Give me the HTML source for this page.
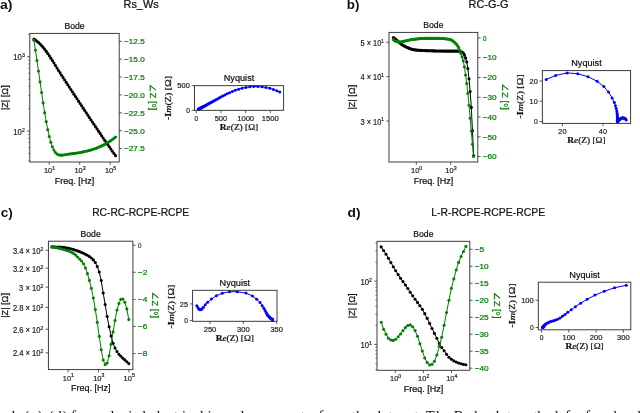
<!DOCTYPE html>
<html><head><meta charset="utf-8"><style>
html,body{margin:0;padding:0;background:#fff;width:640px;height:413px;overflow:hidden}
svg{display:block;will-change:transform}
text{stroke-linejoin:round}
</style></head><body>
<svg width="640" height="413" viewBox="0 0 640 413">
<rect width="640" height="413" fill="#fff"/>
<text x="123.6" y="8" font-size="10.4" font-family="Liberation Sans" fill="#111" stroke="#111" stroke-width="0.22" textLength="35" lengthAdjust="spacingAndGlyphs">Rs_Ws</text>
<text x="0" y="9.3" font-size="12" font-family="Liberation Sans" fill="#111" font-weight="bold" textLength="12.5" lengthAdjust="spacingAndGlyphs">a)</text>
<text x="74.5" y="29.3" font-size="8.9" font-family="Liberation Sans" fill="#111" stroke="#111" stroke-width="0.22" text-anchor="middle" textLength="20.2" lengthAdjust="spacingAndGlyphs">Bode</text>
<text x="74.5" y="183.8" font-size="8.4" font-family="Liberation Sans" fill="#111" stroke="#111" stroke-width="0.22" text-anchor="middle" textLength="39.5" lengthAdjust="spacingAndGlyphs">Freq. [Hz]</text>
<text x="7.6" y="97.7" font-size="8.4" font-family="Liberation Sans" fill="#111" stroke="#111" stroke-width="0.22" text-anchor="middle" textLength="24.8" lengthAdjust="spacingAndGlyphs" transform="rotate(-90 7.6 97.7)">|Z| [Ω]</text>
<g transform="translate(149.8 97.7) rotate(90)"><path d="M-7.6 -6.1 L-12.1 -0.4 L-6.4 -0.4" fill="none" stroke="#008000" stroke-width="1.1"/><text x="-4.9" y="0" font-size="8.4" font-family="Liberation Sans" fill="#008000" stroke="#008000" stroke-width="0.22" textLength="17.6" lengthAdjust="spacingAndGlyphs">Z [<tspan font-size="10" dy="2">°</tspan><tspan dy="-2">]</tspan></text></g>
<line x1="49.2" y1="162" x2="49.2" y2="164.8" stroke="#333" stroke-width="0.8"/>
<text x="49.5" y="172.9" font-size="7.9" font-family="Liberation Sans" fill="#262626" stroke="#262626" stroke-width="0.22" text-anchor="middle" textLength="11.2" lengthAdjust="spacingAndGlyphs">10<tspan font-size="5.53" dy="-3.16">1</tspan></text>
<line x1="79.7" y1="162" x2="79.7" y2="164.8" stroke="#333" stroke-width="0.8"/>
<text x="80" y="172.9" font-size="7.9" font-family="Liberation Sans" fill="#262626" stroke="#262626" stroke-width="0.22" text-anchor="middle" textLength="11.2" lengthAdjust="spacingAndGlyphs">10<tspan font-size="5.53" dy="-3.16">3</tspan></text>
<line x1="110.2" y1="162" x2="110.2" y2="164.8" stroke="#333" stroke-width="0.8"/>
<text x="110.5" y="172.9" font-size="7.9" font-family="Liberation Sans" fill="#262626" stroke="#262626" stroke-width="0.22" text-anchor="middle" textLength="11.2" lengthAdjust="spacingAndGlyphs">10<tspan font-size="5.53" dy="-3.16">5</tspan></text>
<line x1="27" y1="56.8" x2="29.8" y2="56.8" stroke="#333" stroke-width="0.8"/>
<text x="24.8" y="60.4" font-size="8.2" font-family="Liberation Sans" fill="#262626" stroke="#262626" stroke-width="0.22" text-anchor="end" textLength="11.5" lengthAdjust="spacingAndGlyphs">10<tspan font-size="5.5" dy="-3.2">3</tspan></text>
<line x1="27" y1="131.1" x2="29.8" y2="131.1" stroke="#333" stroke-width="0.8"/>
<text x="24.8" y="134.7" font-size="8.2" font-family="Liberation Sans" fill="#262626" stroke="#262626" stroke-width="0.22" text-anchor="end" textLength="11.5" lengthAdjust="spacingAndGlyphs">10<tspan font-size="5.5" dy="-3.2">2</tspan></text>
<line x1="28.1" y1="160.67" x2="29.8" y2="160.67" stroke="#333" stroke-width="0.6"/>
<line x1="28.1" y1="153.47" x2="29.8" y2="153.47" stroke="#333" stroke-width="0.6"/>
<line x1="28.1" y1="147.58" x2="29.8" y2="147.58" stroke="#333" stroke-width="0.6"/>
<line x1="28.1" y1="142.61" x2="29.8" y2="142.61" stroke="#333" stroke-width="0.6"/>
<line x1="28.1" y1="138.3" x2="29.8" y2="138.3" stroke="#333" stroke-width="0.6"/>
<line x1="28.1" y1="134.5" x2="29.8" y2="134.5" stroke="#333" stroke-width="0.6"/>
<line x1="28.1" y1="108.73" x2="29.8" y2="108.73" stroke="#333" stroke-width="0.6"/>
<line x1="28.1" y1="95.65" x2="29.8" y2="95.65" stroke="#333" stroke-width="0.6"/>
<line x1="28.1" y1="86.37" x2="29.8" y2="86.37" stroke="#333" stroke-width="0.6"/>
<line x1="28.1" y1="79.17" x2="29.8" y2="79.17" stroke="#333" stroke-width="0.6"/>
<line x1="28.1" y1="73.28" x2="29.8" y2="73.28" stroke="#333" stroke-width="0.6"/>
<line x1="28.1" y1="68.31" x2="29.8" y2="68.31" stroke="#333" stroke-width="0.6"/>
<line x1="28.1" y1="64" x2="29.8" y2="64" stroke="#333" stroke-width="0.6"/>
<line x1="28.1" y1="60.2" x2="29.8" y2="60.2" stroke="#333" stroke-width="0.6"/>
<line x1="28.1" y1="34.43" x2="29.8" y2="34.43" stroke="#333" stroke-width="0.6"/>
<line x1="119.2" y1="41.3" x2="122" y2="41.3" stroke="#333" stroke-width="0.8"/>
<text x="124.1" y="44.1" font-size="7.7" font-family="Liberation Sans" fill="#008000" stroke="#008000" stroke-width="0.22" textLength="20.59" lengthAdjust="spacingAndGlyphs">−12.5</text>
<line x1="119.2" y1="59.18" x2="122" y2="59.18" stroke="#333" stroke-width="0.8"/>
<text x="124.1" y="61.98" font-size="7.7" font-family="Liberation Sans" fill="#008000" stroke="#008000" stroke-width="0.22" textLength="20.59" lengthAdjust="spacingAndGlyphs">−15.0</text>
<line x1="119.2" y1="77.06" x2="122" y2="77.06" stroke="#333" stroke-width="0.8"/>
<text x="124.1" y="79.86" font-size="7.7" font-family="Liberation Sans" fill="#008000" stroke="#008000" stroke-width="0.22" textLength="20.59" lengthAdjust="spacingAndGlyphs">−17.5</text>
<line x1="119.2" y1="94.95" x2="122" y2="94.95" stroke="#333" stroke-width="0.8"/>
<text x="124.1" y="97.75" font-size="7.7" font-family="Liberation Sans" fill="#008000" stroke="#008000" stroke-width="0.22" textLength="20.59" lengthAdjust="spacingAndGlyphs">−20.0</text>
<line x1="119.2" y1="112.83" x2="122" y2="112.83" stroke="#333" stroke-width="0.8"/>
<text x="124.1" y="115.63" font-size="7.7" font-family="Liberation Sans" fill="#008000" stroke="#008000" stroke-width="0.22" textLength="20.59" lengthAdjust="spacingAndGlyphs">−22.5</text>
<line x1="119.2" y1="130.71" x2="122" y2="130.71" stroke="#333" stroke-width="0.8"/>
<text x="124.1" y="133.51" font-size="7.7" font-family="Liberation Sans" fill="#008000" stroke="#008000" stroke-width="0.22" textLength="20.59" lengthAdjust="spacingAndGlyphs">−25.0</text>
<line x1="119.2" y1="148.59" x2="122" y2="148.59" stroke="#333" stroke-width="0.8"/>
<text x="124.1" y="151.39" font-size="7.7" font-family="Liberation Sans" fill="#008000" stroke="#008000" stroke-width="0.22" textLength="20.59" lengthAdjust="spacingAndGlyphs">−27.5</text>
<path d="M33.9 39.08 L35.44 40.09 L36.98 41.24 L38.52 42.53 L40.06 43.99 L41.6 45.6 L43.14 47.37 L44.68 49.29 L46.22 51.35 L47.76 53.53 L49.3 55.81 L50.84 58.17 L52.38 60.59 L53.92 63.04 L55.45 65.51 L56.99 67.98 L58.53 70.43 L60.07 72.86 L61.61 75.27 L63.15 77.66 L64.69 80.04 L66.23 82.4 L67.77 84.75 L69.31 87.1 L70.85 89.45 L72.39 91.79 L73.93 94.13 L75.47 96.47 L77.01 98.81 L78.55 101.14 L80.09 103.48 L81.63 105.81 L83.17 108.13 L84.71 110.45 L86.25 112.77 L87.79 115.09 L89.33 117.4 L90.87 119.7 L92.41 122 L93.95 124.3 L95.48 126.59 L97.02 128.87 L98.56 131.15 L100.1 133.42 L101.64 135.69 L103.18 137.94 L104.72 140.19 L106.26 142.43 L107.8 144.66 L109.34 146.87 L110.88 149.08 L112.42 151.28 L113.96 153.46 L115.5 155.63" fill="none" stroke="#000" stroke-width="1.0" stroke-linejoin="round"/>
<g fill="#000"><circle cx="33.9" cy="39.08" r="1.55"/><circle cx="35.44" cy="40.09" r="1.55"/><circle cx="36.98" cy="41.24" r="1.55"/><circle cx="38.52" cy="42.53" r="1.55"/><circle cx="40.06" cy="43.99" r="1.55"/><circle cx="41.6" cy="45.6" r="1.55"/><circle cx="43.14" cy="47.37" r="1.55"/><circle cx="44.68" cy="49.29" r="1.55"/><circle cx="46.22" cy="51.35" r="1.55"/><circle cx="47.76" cy="53.53" r="1.55"/><circle cx="49.3" cy="55.81" r="1.55"/><circle cx="50.84" cy="58.17" r="1.55"/><circle cx="52.38" cy="60.59" r="1.55"/><circle cx="53.92" cy="63.04" r="1.55"/><circle cx="55.45" cy="65.51" r="1.55"/><circle cx="56.99" cy="67.98" r="1.55"/><circle cx="58.53" cy="70.43" r="1.55"/><circle cx="60.07" cy="72.86" r="1.55"/><circle cx="61.61" cy="75.27" r="1.55"/><circle cx="63.15" cy="77.66" r="1.55"/><circle cx="64.69" cy="80.04" r="1.55"/><circle cx="66.23" cy="82.4" r="1.55"/><circle cx="67.77" cy="84.75" r="1.55"/><circle cx="69.31" cy="87.1" r="1.55"/><circle cx="70.85" cy="89.45" r="1.55"/><circle cx="72.39" cy="91.79" r="1.55"/><circle cx="73.93" cy="94.13" r="1.55"/><circle cx="75.47" cy="96.47" r="1.55"/><circle cx="77.01" cy="98.81" r="1.55"/><circle cx="78.55" cy="101.14" r="1.55"/><circle cx="80.09" cy="103.48" r="1.55"/><circle cx="81.63" cy="105.81" r="1.55"/><circle cx="83.17" cy="108.13" r="1.55"/><circle cx="84.71" cy="110.45" r="1.55"/><circle cx="86.25" cy="112.77" r="1.55"/><circle cx="87.79" cy="115.09" r="1.55"/><circle cx="89.33" cy="117.4" r="1.55"/><circle cx="90.87" cy="119.7" r="1.55"/><circle cx="92.41" cy="122" r="1.55"/><circle cx="93.95" cy="124.3" r="1.55"/><circle cx="95.48" cy="126.59" r="1.55"/><circle cx="97.02" cy="128.87" r="1.55"/><circle cx="98.56" cy="131.15" r="1.55"/><circle cx="100.1" cy="133.42" r="1.55"/><circle cx="101.64" cy="135.69" r="1.55"/><circle cx="103.18" cy="137.94" r="1.55"/><circle cx="104.72" cy="140.19" r="1.55"/><circle cx="106.26" cy="142.43" r="1.55"/><circle cx="107.8" cy="144.66" r="1.55"/><circle cx="109.34" cy="146.87" r="1.55"/><circle cx="110.88" cy="149.08" r="1.55"/><circle cx="112.42" cy="151.28" r="1.55"/><circle cx="113.96" cy="153.46" r="1.55"/><circle cx="115.5" cy="155.63" r="1.55"/></g>
<path d="M33.9 40.2 L35.44 50.1 L36.98 60.45 L38.52 71.11 L40.06 81.89 L41.6 92.56 L43.14 102.89 L44.68 112.66 L46.22 121.64 L47.76 129.63 L49.3 136.52 L50.84 142.22 L52.38 146.73 L53.92 150.11 L55.45 152.47 L56.99 153.97 L58.53 154.81 L60.07 155.15 L61.61 155.17 L63.15 155.01 L64.69 154.76 L66.23 154.51 L67.77 154.26 L69.31 154.04 L70.85 153.83 L72.39 153.63 L73.93 153.43 L75.47 153.21 L77.01 152.98 L78.55 152.73 L80.09 152.47 L81.63 152.18 L83.17 151.87 L84.71 151.54 L86.25 151.19 L87.79 150.81 L89.33 150.4 L90.87 149.96 L92.41 149.5 L93.95 148.99 L95.48 148.46 L97.02 147.88 L98.56 147.27 L100.1 146.61 L101.64 145.91 L103.18 145.15 L104.72 144.35 L106.26 143.49 L107.8 142.58 L109.34 141.6 L110.88 140.56 L112.42 139.45 L113.96 138.27 L115.5 137.02" fill="none" stroke="#008000" stroke-width="1.0" stroke-linejoin="round"/>
<g fill="#008000"><circle cx="33.9" cy="40.2" r="1.55"/><circle cx="35.44" cy="50.1" r="1.55"/><circle cx="36.98" cy="60.45" r="1.55"/><circle cx="38.52" cy="71.11" r="1.55"/><circle cx="40.06" cy="81.89" r="1.55"/><circle cx="41.6" cy="92.56" r="1.55"/><circle cx="43.14" cy="102.89" r="1.55"/><circle cx="44.68" cy="112.66" r="1.55"/><circle cx="46.22" cy="121.64" r="1.55"/><circle cx="47.76" cy="129.63" r="1.55"/><circle cx="49.3" cy="136.52" r="1.55"/><circle cx="50.84" cy="142.22" r="1.55"/><circle cx="52.38" cy="146.73" r="1.55"/><circle cx="53.92" cy="150.11" r="1.55"/><circle cx="55.45" cy="152.47" r="1.55"/><circle cx="56.99" cy="153.97" r="1.55"/><circle cx="58.53" cy="154.81" r="1.55"/><circle cx="60.07" cy="155.15" r="1.55"/><circle cx="61.61" cy="155.17" r="1.55"/><circle cx="63.15" cy="155.01" r="1.55"/><circle cx="64.69" cy="154.76" r="1.55"/><circle cx="66.23" cy="154.51" r="1.55"/><circle cx="67.77" cy="154.26" r="1.55"/><circle cx="69.31" cy="154.04" r="1.55"/><circle cx="70.85" cy="153.83" r="1.55"/><circle cx="72.39" cy="153.63" r="1.55"/><circle cx="73.93" cy="153.43" r="1.55"/><circle cx="75.47" cy="153.21" r="1.55"/><circle cx="77.01" cy="152.98" r="1.55"/><circle cx="78.55" cy="152.73" r="1.55"/><circle cx="80.09" cy="152.47" r="1.55"/><circle cx="81.63" cy="152.18" r="1.55"/><circle cx="83.17" cy="151.87" r="1.55"/><circle cx="84.71" cy="151.54" r="1.55"/><circle cx="86.25" cy="151.19" r="1.55"/><circle cx="87.79" cy="150.81" r="1.55"/><circle cx="89.33" cy="150.4" r="1.55"/><circle cx="90.87" cy="149.96" r="1.55"/><circle cx="92.41" cy="149.5" r="1.55"/><circle cx="93.95" cy="148.99" r="1.55"/><circle cx="95.48" cy="148.46" r="1.55"/><circle cx="97.02" cy="147.88" r="1.55"/><circle cx="98.56" cy="147.27" r="1.55"/><circle cx="100.1" cy="146.61" r="1.55"/><circle cx="101.64" cy="145.91" r="1.55"/><circle cx="103.18" cy="145.15" r="1.55"/><circle cx="104.72" cy="144.35" r="1.55"/><circle cx="106.26" cy="143.49" r="1.55"/><circle cx="107.8" cy="142.58" r="1.55"/><circle cx="109.34" cy="141.6" r="1.55"/><circle cx="110.88" cy="140.56" r="1.55"/><circle cx="112.42" cy="139.45" r="1.55"/><circle cx="113.96" cy="138.27" r="1.55"/><circle cx="115.5" cy="137.02" r="1.55"/></g>
<rect x="29.8" y="33.4" width="89.4" height="128.6" fill="none" stroke="#333" stroke-width="0.95"/>
<text x="239.03" y="81.17" font-size="8.9" font-family="Liberation Sans" fill="#111" stroke="#111" stroke-width="0.22" text-anchor="middle" textLength="30.5" lengthAdjust="spacingAndGlyphs">Nyquist</text>
<line x1="196.3" y1="110.34" x2="196.3" y2="113.14" stroke="#333" stroke-width="0.8"/>
<text x="196.3" y="120.74" font-size="7.7" font-family="Liberation Sans" fill="#262626" stroke="#262626" stroke-width="0.22" text-anchor="middle" textLength="3.72" lengthAdjust="spacingAndGlyphs">0</text>
<line x1="220.97" y1="110.34" x2="220.97" y2="113.14" stroke="#333" stroke-width="0.8"/>
<text x="220.97" y="120.74" font-size="7.7" font-family="Liberation Sans" fill="#262626" stroke="#262626" stroke-width="0.22" text-anchor="middle" textLength="12.56" lengthAdjust="spacingAndGlyphs">500</text>
<line x1="245.64" y1="110.34" x2="245.64" y2="113.14" stroke="#333" stroke-width="0.8"/>
<text x="245.64" y="120.74" font-size="7.7" font-family="Liberation Sans" fill="#262626" stroke="#262626" stroke-width="0.22" text-anchor="middle" textLength="16.98" lengthAdjust="spacingAndGlyphs">1000</text>
<line x1="270.31" y1="110.34" x2="270.31" y2="113.14" stroke="#333" stroke-width="0.8"/>
<text x="270.31" y="120.74" font-size="7.7" font-family="Liberation Sans" fill="#262626" stroke="#262626" stroke-width="0.22" text-anchor="middle" textLength="16.98" lengthAdjust="spacingAndGlyphs">1500</text>
<line x1="191.66" y1="110.34" x2="194.46" y2="110.34" stroke="#333" stroke-width="0.8"/>
<text x="189.86" y="113.14" font-size="7.7" font-family="Liberation Sans" fill="#262626" stroke="#262626" stroke-width="0.22" text-anchor="end" textLength="3.72" lengthAdjust="spacingAndGlyphs">0</text>
<line x1="191.66" y1="85.67" x2="194.46" y2="85.67" stroke="#333" stroke-width="0.8"/>
<text x="189.86" y="88.47" font-size="7.7" font-family="Liberation Sans" fill="#262626" stroke="#262626" stroke-width="0.22" text-anchor="end" textLength="12.56" lengthAdjust="spacingAndGlyphs">500</text>
<text x="239.03" y="129.84" font-size="8.6" font-family="Liberation Serif" fill="#111" stroke="#111" stroke-width="0.22" text-anchor="middle" textLength="38.3" lengthAdjust="spacingAndGlyphs"><tspan font-weight="bold">R</tspan><tspan font-style="italic">e</tspan>(Z) [Ω]</text>
<text x="171.2" y="98" font-size="8.6" font-family="Liberation Serif" fill="#111" stroke="#111" stroke-width="0.22" text-anchor="middle" transform="rotate(-90 171.2 98)" textLength="44" lengthAdjust="spacingAndGlyphs">-<tspan font-weight="bold">I</tspan><tspan font-style="italic">m</tspan>(Z) [Ω]</text>
<path d="M279.78 92.07 L276.76 90.68 L273.44 89.41 L269.85 88.32 L266.03 87.45 L262.04 86.85 L257.95 86.54 L253.84 86.53 L249.78 86.83 L245.85 87.39 L242.1 88.19 L238.57 89.16 L235.3 90.26 L232.3 91.43 L229.55 92.63 L227.04 93.82 L224.76 94.97 L222.68 96.07 L220.78 97.09 L219.04 98.05 L217.43 98.93 L215.94 99.75 L214.57 100.51 L213.29 101.21 L212.1 101.85 L211 102.46 L209.98 103.01 L209.02 103.53 L208.14 104.02 L207.32 104.46 L206.55 104.88 L205.84 105.27 L205.18 105.63 L204.57 105.96 L204 106.27 L203.47 106.56 L202.98 106.83 L202.52 107.08 L202.09 107.31 L201.7 107.52 L201.33 107.72 L200.99 107.91 L200.68 108.08 L200.38 108.24 L200.11 108.39 L199.86 108.53 L199.62 108.66 L199.4 108.77 L199.2 108.89 L199.01 108.99 L198.83 109.08 L198.67 109.17 L198.52 109.26 L198.38 109.33" fill="none" stroke="#0000ff" stroke-width="1.0" stroke-linejoin="round"/>
<g fill="#0000ff"><circle cx="279.78" cy="92.07" r="1.5"/><circle cx="276.76" cy="90.68" r="1.5"/><circle cx="273.44" cy="89.41" r="1.5"/><circle cx="269.85" cy="88.32" r="1.5"/><circle cx="266.03" cy="87.45" r="1.5"/><circle cx="262.04" cy="86.85" r="1.5"/><circle cx="257.95" cy="86.54" r="1.5"/><circle cx="253.84" cy="86.53" r="1.5"/><circle cx="249.78" cy="86.83" r="1.5"/><circle cx="245.85" cy="87.39" r="1.5"/><circle cx="242.1" cy="88.19" r="1.5"/><circle cx="238.57" cy="89.16" r="1.5"/><circle cx="235.3" cy="90.26" r="1.5"/><circle cx="232.3" cy="91.43" r="1.5"/><circle cx="229.55" cy="92.63" r="1.5"/><circle cx="227.04" cy="93.82" r="1.5"/><circle cx="224.76" cy="94.97" r="1.5"/><circle cx="222.68" cy="96.07" r="1.5"/><circle cx="220.78" cy="97.09" r="1.5"/><circle cx="219.04" cy="98.05" r="1.5"/><circle cx="217.43" cy="98.93" r="1.5"/><circle cx="215.94" cy="99.75" r="1.5"/><circle cx="214.57" cy="100.51" r="1.5"/><circle cx="213.29" cy="101.21" r="1.5"/><circle cx="212.1" cy="101.85" r="1.5"/><circle cx="211" cy="102.46" r="1.5"/><circle cx="209.98" cy="103.01" r="1.5"/><circle cx="209.02" cy="103.53" r="1.5"/><circle cx="208.14" cy="104.02" r="1.5"/><circle cx="207.32" cy="104.46" r="1.5"/><circle cx="206.55" cy="104.88" r="1.5"/><circle cx="205.84" cy="105.27" r="1.5"/><circle cx="205.18" cy="105.63" r="1.5"/><circle cx="204.57" cy="105.96" r="1.5"/><circle cx="204" cy="106.27" r="1.5"/><circle cx="203.47" cy="106.56" r="1.5"/><circle cx="202.98" cy="106.83" r="1.5"/><circle cx="202.52" cy="107.08" r="1.5"/><circle cx="202.09" cy="107.31" r="1.5"/><circle cx="201.7" cy="107.52" r="1.5"/><circle cx="201.33" cy="107.72" r="1.5"/><circle cx="200.99" cy="107.91" r="1.5"/><circle cx="200.68" cy="108.08" r="1.5"/><circle cx="200.38" cy="108.24" r="1.5"/><circle cx="200.11" cy="108.39" r="1.5"/><circle cx="199.86" cy="108.53" r="1.5"/><circle cx="199.62" cy="108.66" r="1.5"/><circle cx="199.4" cy="108.77" r="1.5"/><circle cx="199.2" cy="108.89" r="1.5"/><circle cx="199.01" cy="108.99" r="1.5"/><circle cx="198.83" cy="109.08" r="1.5"/><circle cx="198.67" cy="109.17" r="1.5"/><circle cx="198.52" cy="109.26" r="1.5"/><circle cx="198.38" cy="109.33" r="1.5"/></g>
<rect x="194.46" y="85.67" width="89.14" height="24.67" fill="none" stroke="#333" stroke-width="0.95"/>
<text x="468.5" y="8" font-size="10.4" font-family="Liberation Sans" fill="#111" stroke="#111" stroke-width="0.22" textLength="40" lengthAdjust="spacingAndGlyphs">RC-G-G</text>
<text x="346.8" y="9.3" font-size="12" font-family="Liberation Sans" fill="#111" font-weight="bold" textLength="12.6" lengthAdjust="spacingAndGlyphs">b)</text>
<text x="433.4" y="28.3" font-size="8.9" font-family="Liberation Sans" fill="#111" stroke="#111" stroke-width="0.22" text-anchor="middle" textLength="20.2" lengthAdjust="spacingAndGlyphs">Bode</text>
<text x="433.4" y="183.8" font-size="8.4" font-family="Liberation Sans" fill="#111" stroke="#111" stroke-width="0.22" text-anchor="middle" textLength="39.5" lengthAdjust="spacingAndGlyphs">Freq. [Hz]</text>
<text x="354.6" y="97.2" font-size="8.4" font-family="Liberation Sans" fill="#111" stroke="#111" stroke-width="0.22" text-anchor="middle" textLength="24.8" lengthAdjust="spacingAndGlyphs" transform="rotate(-90 354.6 97.2)">|Z| [Ω]</text>
<g transform="translate(502.2 97.2) rotate(90)"><path d="M-7.6 -6.1 L-12.1 -0.4 L-6.4 -0.4" fill="none" stroke="#008000" stroke-width="1.1"/><text x="-4.9" y="0" font-size="8.4" font-family="Liberation Sans" fill="#008000" stroke="#008000" stroke-width="0.22" textLength="17.6" lengthAdjust="spacingAndGlyphs">Z [<tspan font-size="10" dy="2">°</tspan><tspan dy="-2">]</tspan></text></g>
<line x1="416.3" y1="162" x2="416.3" y2="164.8" stroke="#333" stroke-width="0.8"/>
<text x="416.6" y="172.9" font-size="7.9" font-family="Liberation Sans" fill="#262626" stroke="#262626" stroke-width="0.22" text-anchor="middle" textLength="11.2" lengthAdjust="spacingAndGlyphs">10<tspan font-size="5.53" dy="-3.16">0</tspan></text>
<line x1="450.65" y1="162" x2="450.65" y2="164.8" stroke="#333" stroke-width="0.8"/>
<text x="450.95" y="172.9" font-size="7.9" font-family="Liberation Sans" fill="#262626" stroke="#262626" stroke-width="0.22" text-anchor="middle" textLength="11.2" lengthAdjust="spacingAndGlyphs">10<tspan font-size="5.53" dy="-3.16">3</tspan></text>
<line x1="386.2" y1="42.2" x2="389" y2="42.2" stroke="#333" stroke-width="0.8"/>
<text x="384" y="45.8" font-size="8.2" font-family="Liberation Sans" fill="#262626" stroke="#262626" stroke-width="0.22" text-anchor="end" textLength="23.5" lengthAdjust="spacingAndGlyphs">5 × 10<tspan font-size="5.5" dy="-3.2">1</tspan></text>
<line x1="386.2" y1="76.63" x2="389" y2="76.63" stroke="#333" stroke-width="0.8"/>
<text x="384" y="80.23" font-size="8.2" font-family="Liberation Sans" fill="#262626" stroke="#262626" stroke-width="0.22" text-anchor="end" textLength="23.5" lengthAdjust="spacingAndGlyphs">4 × 10<tspan font-size="5.5" dy="-3.2">1</tspan></text>
<line x1="386.2" y1="121.02" x2="389" y2="121.02" stroke="#333" stroke-width="0.8"/>
<text x="384" y="124.62" font-size="8.2" font-family="Liberation Sans" fill="#262626" stroke="#262626" stroke-width="0.22" text-anchor="end" textLength="23.5" lengthAdjust="spacingAndGlyphs">3 × 10<tspan font-size="5.5" dy="-3.2">1</tspan></text>
<line x1="477.8" y1="37.9" x2="480.6" y2="37.9" stroke="#333" stroke-width="0.8"/>
<text x="482.7" y="40.7" font-size="7.7" font-family="Liberation Sans" fill="#008000" stroke="#008000" stroke-width="0.22" textLength="3.72" lengthAdjust="spacingAndGlyphs">0</text>
<line x1="477.8" y1="57.68" x2="480.6" y2="57.68" stroke="#333" stroke-width="0.8"/>
<text x="482.7" y="60.48" font-size="7.7" font-family="Liberation Sans" fill="#008000" stroke="#008000" stroke-width="0.22" textLength="13.96" lengthAdjust="spacingAndGlyphs">−10</text>
<line x1="477.8" y1="77.46" x2="480.6" y2="77.46" stroke="#333" stroke-width="0.8"/>
<text x="482.7" y="80.26" font-size="7.7" font-family="Liberation Sans" fill="#008000" stroke="#008000" stroke-width="0.22" textLength="13.96" lengthAdjust="spacingAndGlyphs">−20</text>
<line x1="477.8" y1="97.24" x2="480.6" y2="97.24" stroke="#333" stroke-width="0.8"/>
<text x="482.7" y="100.04" font-size="7.7" font-family="Liberation Sans" fill="#008000" stroke="#008000" stroke-width="0.22" textLength="13.96" lengthAdjust="spacingAndGlyphs">−30</text>
<line x1="477.8" y1="117.02" x2="480.6" y2="117.02" stroke="#333" stroke-width="0.8"/>
<text x="482.7" y="119.82" font-size="7.7" font-family="Liberation Sans" fill="#008000" stroke="#008000" stroke-width="0.22" textLength="13.96" lengthAdjust="spacingAndGlyphs">−40</text>
<line x1="477.8" y1="136.8" x2="480.6" y2="136.8" stroke="#333" stroke-width="0.8"/>
<text x="482.7" y="139.6" font-size="7.7" font-family="Liberation Sans" fill="#008000" stroke="#008000" stroke-width="0.22" textLength="13.96" lengthAdjust="spacingAndGlyphs">−50</text>
<line x1="477.8" y1="156.58" x2="480.6" y2="156.58" stroke="#333" stroke-width="0.8"/>
<text x="482.7" y="159.38" font-size="7.7" font-family="Liberation Sans" fill="#008000" stroke="#008000" stroke-width="0.22" textLength="13.96" lengthAdjust="spacingAndGlyphs">−60</text>
<path d="M393.4 37.5 L394.55 38.41 L395.69 39.33 L396.84 40.26 L397.98 41.2 L399.13 42.21 L400.27 43.23 L401.42 44.17 L402.57 44.97 L403.71 45.68 L404.86 46.33 L406 46.92 L407.15 47.45 L408.29 47.92 L409.44 48.37 L410.59 48.8 L411.73 49.19 L412.88 49.51 L414.02 49.75 L415.17 49.89 L416.31 50.02 L417.46 50.13 L418.61 50.22 L419.75 50.31 L420.9 50.38 L422.04 50.45 L423.19 50.51 L424.33 50.56 L425.48 50.6 L426.63 50.64 L427.77 50.68 L428.92 50.72 L430.06 50.76 L431.21 50.8 L432.35 50.83 L433.5 50.86 L434.65 50.9 L435.79 50.93 L436.94 50.96 L438.08 50.98 L439.23 51.01 L440.37 51.03 L441.52 51.05 L442.67 51.06 L443.81 51.08 L444.96 51.09 L446.1 51.1 L447.25 51.1 L448.39 51.1 L449.54 51.1 L450.69 51.1 L451.83 51.1 L452.98 51.1 L454.12 51.1 L455.27 51.1 L456.41 51.1 L457.56 51.1 L458.71 51.1 L459.85 51.28 L461 51.77 L462.14 52.28 L463.29 53 L464.43 54.9 L465.58 57.9 L466.73 61.9 L467.87 68.6 L469.02 78.8 L470.16 91.6 L471.31 107.4 L472.45 130.7 L473.6 155.5" fill="none" stroke="#000" stroke-width="1.0" stroke-linejoin="round"/>
<g fill="#000"><circle cx="393.4" cy="37.5" r="1.55"/><circle cx="394.55" cy="38.41" r="1.55"/><circle cx="395.69" cy="39.33" r="1.55"/><circle cx="396.84" cy="40.26" r="1.55"/><circle cx="397.98" cy="41.2" r="1.55"/><circle cx="399.13" cy="42.21" r="1.55"/><circle cx="400.27" cy="43.23" r="1.55"/><circle cx="401.42" cy="44.17" r="1.55"/><circle cx="402.57" cy="44.97" r="1.55"/><circle cx="403.71" cy="45.68" r="1.55"/><circle cx="404.86" cy="46.33" r="1.55"/><circle cx="406" cy="46.92" r="1.55"/><circle cx="407.15" cy="47.45" r="1.55"/><circle cx="408.29" cy="47.92" r="1.55"/><circle cx="409.44" cy="48.37" r="1.55"/><circle cx="410.59" cy="48.8" r="1.55"/><circle cx="411.73" cy="49.19" r="1.55"/><circle cx="412.88" cy="49.51" r="1.55"/><circle cx="414.02" cy="49.75" r="1.55"/><circle cx="415.17" cy="49.89" r="1.55"/><circle cx="416.31" cy="50.02" r="1.55"/><circle cx="417.46" cy="50.13" r="1.55"/><circle cx="418.61" cy="50.22" r="1.55"/><circle cx="419.75" cy="50.31" r="1.55"/><circle cx="420.9" cy="50.38" r="1.55"/><circle cx="422.04" cy="50.45" r="1.55"/><circle cx="423.19" cy="50.51" r="1.55"/><circle cx="424.33" cy="50.56" r="1.55"/><circle cx="425.48" cy="50.6" r="1.55"/><circle cx="426.63" cy="50.64" r="1.55"/><circle cx="427.77" cy="50.68" r="1.55"/><circle cx="428.92" cy="50.72" r="1.55"/><circle cx="430.06" cy="50.76" r="1.55"/><circle cx="431.21" cy="50.8" r="1.55"/><circle cx="432.35" cy="50.83" r="1.55"/><circle cx="433.5" cy="50.86" r="1.55"/><circle cx="434.65" cy="50.9" r="1.55"/><circle cx="435.79" cy="50.93" r="1.55"/><circle cx="436.94" cy="50.96" r="1.55"/><circle cx="438.08" cy="50.98" r="1.55"/><circle cx="439.23" cy="51.01" r="1.55"/><circle cx="440.37" cy="51.03" r="1.55"/><circle cx="441.52" cy="51.05" r="1.55"/><circle cx="442.67" cy="51.06" r="1.55"/><circle cx="443.81" cy="51.08" r="1.55"/><circle cx="444.96" cy="51.09" r="1.55"/><circle cx="446.1" cy="51.1" r="1.55"/><circle cx="447.25" cy="51.1" r="1.55"/><circle cx="448.39" cy="51.1" r="1.55"/><circle cx="449.54" cy="51.1" r="1.55"/><circle cx="450.69" cy="51.1" r="1.55"/><circle cx="451.83" cy="51.1" r="1.55"/><circle cx="452.98" cy="51.1" r="1.55"/><circle cx="454.12" cy="51.1" r="1.55"/><circle cx="455.27" cy="51.1" r="1.55"/><circle cx="456.41" cy="51.1" r="1.55"/><circle cx="457.56" cy="51.1" r="1.55"/><circle cx="458.71" cy="51.1" r="1.55"/><circle cx="459.85" cy="51.28" r="1.55"/><circle cx="461" cy="51.77" r="1.55"/><circle cx="462.14" cy="52.28" r="1.55"/><circle cx="463.29" cy="53" r="1.55"/><circle cx="464.43" cy="54.9" r="1.55"/><circle cx="465.58" cy="57.9" r="1.55"/><circle cx="466.73" cy="61.9" r="1.55"/><circle cx="467.87" cy="68.6" r="1.55"/><circle cx="469.02" cy="78.8" r="1.55"/><circle cx="470.16" cy="91.6" r="1.55"/><circle cx="471.31" cy="107.4" r="1.55"/><circle cx="472.45" cy="130.7" r="1.55"/><circle cx="473.6" cy="155.5" r="1.55"/></g>
<path d="M393.4 39.6 L394.55 40.51 L395.69 41.18 L396.84 41.57 L397.98 41.87 L399.13 42 L400.27 41.94 L401.42 41.77 L402.57 41.54 L403.71 41.28 L404.86 41.03 L406 40.79 L407.15 40.51 L408.29 40.23 L409.44 39.96 L410.59 39.73 L411.73 39.56 L412.88 39.41 L414.02 39.27 L415.17 39.13 L416.31 38.99 L417.46 38.87 L418.61 38.76 L419.75 38.66 L420.9 38.57 L422.04 38.5 L423.19 38.45 L424.33 38.41 L425.48 38.4 L426.63 38.4 L427.77 38.4 L428.92 38.4 L430.06 38.4 L431.21 38.4 L432.35 38.4 L433.5 38.4 L434.65 38.4 L435.79 38.4 L436.94 38.4 L438.08 38.4 L439.23 38.4 L440.37 38.43 L441.52 38.47 L442.67 38.54 L443.81 38.62 L444.96 38.73 L446.1 38.86 L447.25 39.01 L448.39 39.19 L449.54 39.38 L450.69 39.63 L451.83 40.22 L452.98 41.09 L454.12 42.07 L455.27 43.09 L456.41 44.28 L457.56 45.74 L458.71 47.63 L459.85 50.36 L461 53.44 L462.14 56.95 L463.29 60.9 L464.43 66.9 L465.58 75 L466.73 83.6 L467.87 93.5 L469.02 105.3 L470.16 118.2 L471.31 131 L472.45 144.3 L473.6 156.5" fill="none" stroke="#008000" stroke-width="1.0" stroke-linejoin="round"/>
<g fill="#008000"><circle cx="393.4" cy="39.6" r="1.55"/><circle cx="394.55" cy="40.51" r="1.55"/><circle cx="395.69" cy="41.18" r="1.55"/><circle cx="396.84" cy="41.57" r="1.55"/><circle cx="397.98" cy="41.87" r="1.55"/><circle cx="399.13" cy="42" r="1.55"/><circle cx="400.27" cy="41.94" r="1.55"/><circle cx="401.42" cy="41.77" r="1.55"/><circle cx="402.57" cy="41.54" r="1.55"/><circle cx="403.71" cy="41.28" r="1.55"/><circle cx="404.86" cy="41.03" r="1.55"/><circle cx="406" cy="40.79" r="1.55"/><circle cx="407.15" cy="40.51" r="1.55"/><circle cx="408.29" cy="40.23" r="1.55"/><circle cx="409.44" cy="39.96" r="1.55"/><circle cx="410.59" cy="39.73" r="1.55"/><circle cx="411.73" cy="39.56" r="1.55"/><circle cx="412.88" cy="39.41" r="1.55"/><circle cx="414.02" cy="39.27" r="1.55"/><circle cx="415.17" cy="39.13" r="1.55"/><circle cx="416.31" cy="38.99" r="1.55"/><circle cx="417.46" cy="38.87" r="1.55"/><circle cx="418.61" cy="38.76" r="1.55"/><circle cx="419.75" cy="38.66" r="1.55"/><circle cx="420.9" cy="38.57" r="1.55"/><circle cx="422.04" cy="38.5" r="1.55"/><circle cx="423.19" cy="38.45" r="1.55"/><circle cx="424.33" cy="38.41" r="1.55"/><circle cx="425.48" cy="38.4" r="1.55"/><circle cx="426.63" cy="38.4" r="1.55"/><circle cx="427.77" cy="38.4" r="1.55"/><circle cx="428.92" cy="38.4" r="1.55"/><circle cx="430.06" cy="38.4" r="1.55"/><circle cx="431.21" cy="38.4" r="1.55"/><circle cx="432.35" cy="38.4" r="1.55"/><circle cx="433.5" cy="38.4" r="1.55"/><circle cx="434.65" cy="38.4" r="1.55"/><circle cx="435.79" cy="38.4" r="1.55"/><circle cx="436.94" cy="38.4" r="1.55"/><circle cx="438.08" cy="38.4" r="1.55"/><circle cx="439.23" cy="38.4" r="1.55"/><circle cx="440.37" cy="38.43" r="1.55"/><circle cx="441.52" cy="38.47" r="1.55"/><circle cx="442.67" cy="38.54" r="1.55"/><circle cx="443.81" cy="38.62" r="1.55"/><circle cx="444.96" cy="38.73" r="1.55"/><circle cx="446.1" cy="38.86" r="1.55"/><circle cx="447.25" cy="39.01" r="1.55"/><circle cx="448.39" cy="39.19" r="1.55"/><circle cx="449.54" cy="39.38" r="1.55"/><circle cx="450.69" cy="39.63" r="1.55"/><circle cx="451.83" cy="40.22" r="1.55"/><circle cx="452.98" cy="41.09" r="1.55"/><circle cx="454.12" cy="42.07" r="1.55"/><circle cx="455.27" cy="43.09" r="1.55"/><circle cx="456.41" cy="44.28" r="1.55"/><circle cx="457.56" cy="45.74" r="1.55"/><circle cx="458.71" cy="47.63" r="1.55"/><circle cx="459.85" cy="50.36" r="1.55"/><circle cx="461" cy="53.44" r="1.55"/><circle cx="462.14" cy="56.95" r="1.55"/><circle cx="463.29" cy="60.9" r="1.55"/><circle cx="464.43" cy="66.9" r="1.55"/><circle cx="465.58" cy="75" r="1.55"/><circle cx="466.73" cy="83.6" r="1.55"/><circle cx="467.87" cy="93.5" r="1.55"/><circle cx="469.02" cy="105.3" r="1.55"/><circle cx="470.16" cy="118.2" r="1.55"/><circle cx="471.31" cy="131" r="1.55"/><circle cx="472.45" cy="144.3" r="1.55"/><circle cx="473.6" cy="156.5" r="1.55"/></g>
<rect x="389" y="32.4" width="88.8" height="129.6" fill="none" stroke="#333" stroke-width="0.95"/>
<text x="586.48" y="66.1" font-size="8.9" font-family="Liberation Sans" fill="#111" stroke="#111" stroke-width="0.22" text-anchor="middle" textLength="30.5" lengthAdjust="spacingAndGlyphs">Nyquist</text>
<line x1="562.4" y1="123.4" x2="562.4" y2="126.2" stroke="#333" stroke-width="0.8"/>
<text x="562.4" y="133.8" font-size="7.7" font-family="Liberation Sans" fill="#262626" stroke="#262626" stroke-width="0.22" text-anchor="middle" textLength="8.14" lengthAdjust="spacingAndGlyphs">20</text>
<line x1="602.9" y1="123.4" x2="602.9" y2="126.2" stroke="#333" stroke-width="0.8"/>
<text x="602.9" y="133.8" font-size="7.7" font-family="Liberation Sans" fill="#262626" stroke="#262626" stroke-width="0.22" text-anchor="middle" textLength="8.14" lengthAdjust="spacingAndGlyphs">40</text>
<line x1="539.55" y1="121.5" x2="542.35" y2="121.5" stroke="#333" stroke-width="0.8"/>
<text x="537.75" y="124.3" font-size="7.7" font-family="Liberation Sans" fill="#262626" stroke="#262626" stroke-width="0.22" text-anchor="end" textLength="3.72" lengthAdjust="spacingAndGlyphs">0</text>
<line x1="539.55" y1="101.25" x2="542.35" y2="101.25" stroke="#333" stroke-width="0.8"/>
<text x="537.75" y="104.05" font-size="7.7" font-family="Liberation Sans" fill="#262626" stroke="#262626" stroke-width="0.22" text-anchor="end" textLength="8.14" lengthAdjust="spacingAndGlyphs">10</text>
<line x1="539.55" y1="81" x2="542.35" y2="81" stroke="#333" stroke-width="0.8"/>
<text x="537.75" y="83.8" font-size="7.7" font-family="Liberation Sans" fill="#262626" stroke="#262626" stroke-width="0.22" text-anchor="end" textLength="8.14" lengthAdjust="spacingAndGlyphs">20</text>
<text x="586.48" y="142.9" font-size="8.6" font-family="Liberation Serif" fill="#111" stroke="#111" stroke-width="0.22" text-anchor="middle" textLength="38.3" lengthAdjust="spacingAndGlyphs"><tspan font-weight="bold">R</tspan><tspan font-style="italic">e</tspan>(Z) [Ω]</text>
<text x="522.6" y="96.5" font-size="8.6" font-family="Liberation Serif" fill="#111" stroke="#111" stroke-width="0.22" text-anchor="middle" transform="rotate(-90 522.6 96.5)" textLength="44" lengthAdjust="spacingAndGlyphs">-<tspan font-weight="bold">I</tspan><tspan font-style="italic">m</tspan>(Z) [Ω]</text>
<path d="M626.27 119.93 L625.64 119.11 L625.01 118.51 L624.38 118.18 L623.74 117.93 L623.07 117.84 L622.41 117.91 L621.81 118.08 L621.3 118.31 L620.85 118.55 L620.44 118.78 L620.07 119 L619.74 119.24 L619.45 119.5 L619.17 119.74 L618.9 119.94 L618.66 120.09 L618.45 120.21 L618.31 120.34 L618.22 120.46 L618.14 120.57 L618.08 120.68 L618.02 120.77 L617.96 120.86 L617.92 120.93 L617.88 120.99 L617.84 121.04 L617.81 121.07 L617.79 121.08 L617.76 121.08 L617.73 121.08 L617.71 121.08 L617.69 121.08 L617.66 121.08 L617.64 121.08 L617.62 121.08 L617.6 121.08 L617.58 121.08 L617.56 121.08 L617.55 121.08 L617.53 121.08 L617.52 121.06 L617.51 121.02 L617.5 120.96 L617.49 120.89 L617.48 120.8 L617.47 120.69 L617.47 120.56 L617.47 120.42 L617.47 120.25 L617.46 120.04 L617.46 119.54 L617.44 118.81 L617.41 117.98 L617.38 117.12 L617.32 116.12 L617.25 114.89 L617.12 113.31 L616.79 111.02 L616.17 108.49 L615.41 105.63 L614.37 102.47 L612.11 97.9 L608.5 92.09 L603.87 86.53 L597.16 81.3 L588.06 76.75 L577.72 73.66 L567.1 72.92 L555.6 75.46 L546.22 79.44" fill="none" stroke="#0000ff" stroke-width="1.0" stroke-linejoin="round"/>
<g fill="#0000ff"><circle cx="626.27" cy="119.93" r="1.5"/><circle cx="625.64" cy="119.11" r="1.5"/><circle cx="625.01" cy="118.51" r="1.5"/><circle cx="624.38" cy="118.18" r="1.5"/><circle cx="623.74" cy="117.93" r="1.5"/><circle cx="623.07" cy="117.84" r="1.5"/><circle cx="622.41" cy="117.91" r="1.5"/><circle cx="621.81" cy="118.08" r="1.5"/><circle cx="621.3" cy="118.31" r="1.5"/><circle cx="620.85" cy="118.55" r="1.5"/><circle cx="620.44" cy="118.78" r="1.5"/><circle cx="620.07" cy="119" r="1.5"/><circle cx="619.74" cy="119.24" r="1.5"/><circle cx="619.45" cy="119.5" r="1.5"/><circle cx="619.17" cy="119.74" r="1.5"/><circle cx="618.9" cy="119.94" r="1.5"/><circle cx="618.66" cy="120.09" r="1.5"/><circle cx="618.45" cy="120.21" r="1.5"/><circle cx="618.31" cy="120.34" r="1.5"/><circle cx="618.22" cy="120.46" r="1.5"/><circle cx="618.14" cy="120.57" r="1.5"/><circle cx="618.08" cy="120.68" r="1.5"/><circle cx="618.02" cy="120.77" r="1.5"/><circle cx="617.96" cy="120.86" r="1.5"/><circle cx="617.92" cy="120.93" r="1.5"/><circle cx="617.88" cy="120.99" r="1.5"/><circle cx="617.84" cy="121.04" r="1.5"/><circle cx="617.81" cy="121.07" r="1.5"/><circle cx="617.79" cy="121.08" r="1.5"/><circle cx="617.76" cy="121.08" r="1.5"/><circle cx="617.73" cy="121.08" r="1.5"/><circle cx="617.71" cy="121.08" r="1.5"/><circle cx="617.69" cy="121.08" r="1.5"/><circle cx="617.66" cy="121.08" r="1.5"/><circle cx="617.64" cy="121.08" r="1.5"/><circle cx="617.62" cy="121.08" r="1.5"/><circle cx="617.6" cy="121.08" r="1.5"/><circle cx="617.58" cy="121.08" r="1.5"/><circle cx="617.56" cy="121.08" r="1.5"/><circle cx="617.55" cy="121.08" r="1.5"/><circle cx="617.53" cy="121.08" r="1.5"/><circle cx="617.52" cy="121.06" r="1.5"/><circle cx="617.51" cy="121.02" r="1.5"/><circle cx="617.5" cy="120.96" r="1.5"/><circle cx="617.49" cy="120.89" r="1.5"/><circle cx="617.48" cy="120.8" r="1.5"/><circle cx="617.47" cy="120.69" r="1.5"/><circle cx="617.47" cy="120.56" r="1.5"/><circle cx="617.47" cy="120.42" r="1.5"/><circle cx="617.47" cy="120.25" r="1.5"/><circle cx="617.46" cy="120.04" r="1.5"/><circle cx="617.46" cy="119.54" r="1.5"/><circle cx="617.44" cy="118.81" r="1.5"/><circle cx="617.41" cy="117.98" r="1.5"/><circle cx="617.38" cy="117.12" r="1.5"/><circle cx="617.32" cy="116.12" r="1.5"/><circle cx="617.25" cy="114.89" r="1.5"/><circle cx="617.12" cy="113.31" r="1.5"/><circle cx="616.79" cy="111.02" r="1.5"/><circle cx="616.17" cy="108.49" r="1.5"/><circle cx="615.41" cy="105.63" r="1.5"/><circle cx="614.37" cy="102.47" r="1.5"/><circle cx="612.11" cy="97.9" r="1.5"/><circle cx="608.5" cy="92.09" r="1.5"/><circle cx="603.87" cy="86.53" r="1.5"/><circle cx="597.16" cy="81.3" r="1.5"/><circle cx="588.06" cy="76.75" r="1.5"/><circle cx="577.72" cy="73.66" r="1.5"/><circle cx="567.1" cy="72.92" r="1.5"/><circle cx="555.6" cy="75.46" r="1.5"/><circle cx="546.22" cy="79.44" r="1.5"/></g>
<rect x="542.35" y="70.6" width="88.25" height="52.8" fill="none" stroke="#333" stroke-width="0.95"/>
<text x="92.2" y="216.2" font-size="10.4" font-family="Liberation Sans" fill="#111" stroke="#111" stroke-width="0.22" textLength="97" lengthAdjust="spacingAndGlyphs">RC-RC-RCPE-RCPE</text>
<text x="0.8" y="217.3" font-size="12" font-family="Liberation Sans" fill="#111" font-weight="bold" textLength="12" lengthAdjust="spacingAndGlyphs">c)</text>
<text x="90.65" y="237.1" font-size="8.9" font-family="Liberation Sans" fill="#111" stroke="#111" stroke-width="0.22" text-anchor="middle" textLength="20.2" lengthAdjust="spacingAndGlyphs">Bode</text>
<text x="90.65" y="391.4" font-size="8.4" font-family="Liberation Sans" fill="#111" stroke="#111" stroke-width="0.22" text-anchor="middle" textLength="39.5" lengthAdjust="spacingAndGlyphs">Freq. [Hz]</text>
<text x="7.6" y="305.4" font-size="8.4" font-family="Liberation Sans" fill="#111" stroke="#111" stroke-width="0.22" text-anchor="middle" textLength="24.8" lengthAdjust="spacingAndGlyphs" transform="rotate(-90 7.6 305.4)">|Z| [Ω]</text>
<g transform="translate(152.3 305.4) rotate(90)"><path d="M-7.6 -6.1 L-12.1 -0.4 L-6.4 -0.4" fill="none" stroke="#008000" stroke-width="1.1"/><text x="-4.9" y="0" font-size="8.4" font-family="Liberation Sans" fill="#008000" stroke="#008000" stroke-width="0.22" textLength="17.6" lengthAdjust="spacingAndGlyphs">Z [<tspan font-size="10" dy="2">°</tspan><tspan dy="-2">]</tspan></text></g>
<line x1="68.1" y1="369.6" x2="68.1" y2="372.4" stroke="#333" stroke-width="0.8"/>
<text x="68.4" y="380.5" font-size="7.9" font-family="Liberation Sans" fill="#262626" stroke="#262626" stroke-width="0.22" text-anchor="middle" textLength="11.2" lengthAdjust="spacingAndGlyphs">10<tspan font-size="5.53" dy="-3.16">1</tspan></text>
<line x1="98.5" y1="369.6" x2="98.5" y2="372.4" stroke="#333" stroke-width="0.8"/>
<text x="98.8" y="380.5" font-size="7.9" font-family="Liberation Sans" fill="#262626" stroke="#262626" stroke-width="0.22" text-anchor="middle" textLength="11.2" lengthAdjust="spacingAndGlyphs">10<tspan font-size="5.53" dy="-3.16">3</tspan></text>
<line x1="128.9" y1="369.6" x2="128.9" y2="372.4" stroke="#333" stroke-width="0.8"/>
<text x="129.2" y="380.5" font-size="7.9" font-family="Liberation Sans" fill="#262626" stroke="#262626" stroke-width="0.22" text-anchor="middle" textLength="11.2" lengthAdjust="spacingAndGlyphs">10<tspan font-size="5.53" dy="-3.16">5</tspan></text>
<line x1="45.6" y1="250.3" x2="48.4" y2="250.3" stroke="#333" stroke-width="0.8"/>
<text x="43.4" y="253.9" font-size="8.2" font-family="Liberation Sans" fill="#262626" stroke="#262626" stroke-width="0.22" text-anchor="end" textLength="30.5" lengthAdjust="spacingAndGlyphs">3.4 × 10<tspan font-size="5.5" dy="-3.2">2</tspan></text>
<line x1="45.6" y1="268.14" x2="48.4" y2="268.14" stroke="#333" stroke-width="0.8"/>
<text x="43.4" y="271.74" font-size="8.2" font-family="Liberation Sans" fill="#262626" stroke="#262626" stroke-width="0.22" text-anchor="end" textLength="30.5" lengthAdjust="spacingAndGlyphs">3.2 × 10<tspan font-size="5.5" dy="-3.2">2</tspan></text>
<line x1="45.6" y1="287.13" x2="48.4" y2="287.13" stroke="#333" stroke-width="0.8"/>
<text x="43.4" y="290.73" font-size="8.2" font-family="Liberation Sans" fill="#262626" stroke="#262626" stroke-width="0.22" text-anchor="end" textLength="24.3" lengthAdjust="spacingAndGlyphs">3 × 10<tspan font-size="5.5" dy="-3.2">2</tspan></text>
<line x1="45.6" y1="307.44" x2="48.4" y2="307.44" stroke="#333" stroke-width="0.8"/>
<text x="43.4" y="311.04" font-size="8.2" font-family="Liberation Sans" fill="#262626" stroke="#262626" stroke-width="0.22" text-anchor="end" textLength="30.5" lengthAdjust="spacingAndGlyphs">2.8 × 10<tspan font-size="5.5" dy="-3.2">2</tspan></text>
<line x1="45.6" y1="329.24" x2="48.4" y2="329.24" stroke="#333" stroke-width="0.8"/>
<text x="43.4" y="332.84" font-size="8.2" font-family="Liberation Sans" fill="#262626" stroke="#262626" stroke-width="0.22" text-anchor="end" textLength="30.5" lengthAdjust="spacingAndGlyphs">2.6 × 10<tspan font-size="5.5" dy="-3.2">2</tspan></text>
<line x1="45.6" y1="352.8" x2="48.4" y2="352.8" stroke="#333" stroke-width="0.8"/>
<text x="43.4" y="356.4" font-size="8.2" font-family="Liberation Sans" fill="#262626" stroke="#262626" stroke-width="0.22" text-anchor="end" textLength="30.5" lengthAdjust="spacingAndGlyphs">2.4 × 10<tspan font-size="5.5" dy="-3.2">2</tspan></text>
<line x1="132.9" y1="245.2" x2="135.7" y2="245.2" stroke="#333" stroke-width="0.8"/>
<text x="137.8" y="248" font-size="7.7" font-family="Liberation Sans" fill="#008000" stroke="#008000" stroke-width="0.22" textLength="3.72" lengthAdjust="spacingAndGlyphs">0</text>
<line x1="132.9" y1="272.28" x2="135.7" y2="272.28" stroke="#333" stroke-width="0.8"/>
<text x="137.8" y="275.08" font-size="7.7" font-family="Liberation Sans" fill="#008000" stroke="#008000" stroke-width="0.22" textLength="9.54" lengthAdjust="spacingAndGlyphs">−2</text>
<line x1="132.9" y1="299.36" x2="135.7" y2="299.36" stroke="#333" stroke-width="0.8"/>
<text x="137.8" y="302.16" font-size="7.7" font-family="Liberation Sans" fill="#008000" stroke="#008000" stroke-width="0.22" textLength="9.54" lengthAdjust="spacingAndGlyphs">−4</text>
<line x1="132.9" y1="326.44" x2="135.7" y2="326.44" stroke="#333" stroke-width="0.8"/>
<text x="137.8" y="329.24" font-size="7.7" font-family="Liberation Sans" fill="#008000" stroke="#008000" stroke-width="0.22" textLength="9.54" lengthAdjust="spacingAndGlyphs">−6</text>
<line x1="132.9" y1="353.52" x2="135.7" y2="353.52" stroke="#333" stroke-width="0.8"/>
<text x="137.8" y="356.32" font-size="7.7" font-family="Liberation Sans" fill="#008000" stroke="#008000" stroke-width="0.22" textLength="9.54" lengthAdjust="spacingAndGlyphs">−8</text>
<path d="M52 246.9 L53.97 246.92 L55.94 246.97 L57.91 247.04 L59.88 247.14 L61.85 247.26 L63.82 247.42 L65.78 247.71 L67.75 248.11 L69.72 248.58 L71.69 249.07 L73.66 249.6 L75.63 250.21 L77.6 250.9 L79.57 251.65 L81.54 252.45 L83.51 253.28 L85.48 254.19 L87.45 255.23 L89.42 256.48 L91.38 257.99 L93.35 259.92 L95.32 262.54 L97.29 266.62 L99.26 271.98 L101.23 280.55 L103.2 293 L105.17 304.6 L107.14 316.5 L109.11 326.8 L111.08 336 L113.05 343.2 L115.02 348 L116.98 351.5 L118.95 354.2 L120.92 356.3 L122.89 358.2 L124.86 359.9 L126.83 361.7 L128.8 363.6" fill="none" stroke="#000" stroke-width="1.0" stroke-linejoin="round"/>
<g fill="#000"><circle cx="52" cy="246.9" r="1.55"/><circle cx="53.97" cy="246.92" r="1.55"/><circle cx="55.94" cy="246.97" r="1.55"/><circle cx="57.91" cy="247.04" r="1.55"/><circle cx="59.88" cy="247.14" r="1.55"/><circle cx="61.85" cy="247.26" r="1.55"/><circle cx="63.82" cy="247.42" r="1.55"/><circle cx="65.78" cy="247.71" r="1.55"/><circle cx="67.75" cy="248.11" r="1.55"/><circle cx="69.72" cy="248.58" r="1.55"/><circle cx="71.69" cy="249.07" r="1.55"/><circle cx="73.66" cy="249.6" r="1.55"/><circle cx="75.63" cy="250.21" r="1.55"/><circle cx="77.6" cy="250.9" r="1.55"/><circle cx="79.57" cy="251.65" r="1.55"/><circle cx="81.54" cy="252.45" r="1.55"/><circle cx="83.51" cy="253.28" r="1.55"/><circle cx="85.48" cy="254.19" r="1.55"/><circle cx="87.45" cy="255.23" r="1.55"/><circle cx="89.42" cy="256.48" r="1.55"/><circle cx="91.38" cy="257.99" r="1.55"/><circle cx="93.35" cy="259.92" r="1.55"/><circle cx="95.32" cy="262.54" r="1.55"/><circle cx="97.29" cy="266.62" r="1.55"/><circle cx="99.26" cy="271.98" r="1.55"/><circle cx="101.23" cy="280.55" r="1.55"/><circle cx="103.2" cy="293" r="1.55"/><circle cx="105.17" cy="304.6" r="1.55"/><circle cx="107.14" cy="316.5" r="1.55"/><circle cx="109.11" cy="326.8" r="1.55"/><circle cx="111.08" cy="336" r="1.55"/><circle cx="113.05" cy="343.2" r="1.55"/><circle cx="115.02" cy="348" r="1.55"/><circle cx="116.98" cy="351.5" r="1.55"/><circle cx="118.95" cy="354.2" r="1.55"/><circle cx="120.92" cy="356.3" r="1.55"/><circle cx="122.89" cy="358.2" r="1.55"/><circle cx="124.86" cy="359.9" r="1.55"/><circle cx="126.83" cy="361.7" r="1.55"/><circle cx="128.8" cy="363.6" r="1.55"/></g>
<path d="M52 246.9 L53.97 247.23 L55.94 247.61 L57.91 248.04 L59.88 248.52 L61.85 249.02 L63.82 249.56 L65.78 250.12 L67.75 250.75 L69.72 251.48 L71.69 252.35 L73.66 253.5 L75.63 255.1 L77.6 256.99 L79.57 258.97 L81.54 261.06 L83.51 263.72 L85.48 267.95 L87.45 273.64 L89.42 280.4 L91.38 288.3 L93.35 298 L95.32 309.5 L97.29 322.4 L99.26 336.3 L101.23 349.7 L103.2 360 L105.17 364.6 L107.14 363 L109.11 355.7 L111.08 344.2 L113.05 331.9 L115.02 320.6 L116.98 310.1 L118.95 303.5 L120.92 299.2 L122.89 299 L124.86 302.2 L126.83 308.9 L128.8 319.6" fill="none" stroke="#008000" stroke-width="1.0" stroke-linejoin="round"/>
<g fill="#008000"><circle cx="52" cy="246.9" r="1.55"/><circle cx="53.97" cy="247.23" r="1.55"/><circle cx="55.94" cy="247.61" r="1.55"/><circle cx="57.91" cy="248.04" r="1.55"/><circle cx="59.88" cy="248.52" r="1.55"/><circle cx="61.85" cy="249.02" r="1.55"/><circle cx="63.82" cy="249.56" r="1.55"/><circle cx="65.78" cy="250.12" r="1.55"/><circle cx="67.75" cy="250.75" r="1.55"/><circle cx="69.72" cy="251.48" r="1.55"/><circle cx="71.69" cy="252.35" r="1.55"/><circle cx="73.66" cy="253.5" r="1.55"/><circle cx="75.63" cy="255.1" r="1.55"/><circle cx="77.6" cy="256.99" r="1.55"/><circle cx="79.57" cy="258.97" r="1.55"/><circle cx="81.54" cy="261.06" r="1.55"/><circle cx="83.51" cy="263.72" r="1.55"/><circle cx="85.48" cy="267.95" r="1.55"/><circle cx="87.45" cy="273.64" r="1.55"/><circle cx="89.42" cy="280.4" r="1.55"/><circle cx="91.38" cy="288.3" r="1.55"/><circle cx="93.35" cy="298" r="1.55"/><circle cx="95.32" cy="309.5" r="1.55"/><circle cx="97.29" cy="322.4" r="1.55"/><circle cx="99.26" cy="336.3" r="1.55"/><circle cx="101.23" cy="349.7" r="1.55"/><circle cx="103.2" cy="360" r="1.55"/><circle cx="105.17" cy="364.6" r="1.55"/><circle cx="107.14" cy="363" r="1.55"/><circle cx="109.11" cy="355.7" r="1.55"/><circle cx="111.08" cy="344.2" r="1.55"/><circle cx="113.05" cy="331.9" r="1.55"/><circle cx="115.02" cy="320.6" r="1.55"/><circle cx="116.98" cy="310.1" r="1.55"/><circle cx="118.95" cy="303.5" r="1.55"/><circle cx="120.92" cy="299.2" r="1.55"/><circle cx="122.89" cy="299" r="1.55"/><circle cx="124.86" cy="302.2" r="1.55"/><circle cx="126.83" cy="308.9" r="1.55"/><circle cx="128.8" cy="319.6" r="1.55"/></g>
<rect x="48.4" y="241.2" width="84.5" height="128.4" fill="none" stroke="#333" stroke-width="0.95"/>
<text x="234.8" y="285.8" font-size="8.9" font-family="Liberation Sans" fill="#111" stroke="#111" stroke-width="0.22" text-anchor="middle" textLength="30.5" lengthAdjust="spacingAndGlyphs">Nyquist</text>
<line x1="210" y1="321.3" x2="210" y2="324.1" stroke="#333" stroke-width="0.8"/>
<text x="210" y="331.7" font-size="7.7" font-family="Liberation Sans" fill="#262626" stroke="#262626" stroke-width="0.22" text-anchor="middle" textLength="12.56" lengthAdjust="spacingAndGlyphs">250</text>
<line x1="243.35" y1="321.3" x2="243.35" y2="324.1" stroke="#333" stroke-width="0.8"/>
<text x="243.35" y="331.7" font-size="7.7" font-family="Liberation Sans" fill="#262626" stroke="#262626" stroke-width="0.22" text-anchor="middle" textLength="12.56" lengthAdjust="spacingAndGlyphs">300</text>
<line x1="276.7" y1="321.3" x2="276.7" y2="324.1" stroke="#333" stroke-width="0.8"/>
<text x="276.7" y="331.7" font-size="7.7" font-family="Liberation Sans" fill="#262626" stroke="#262626" stroke-width="0.22" text-anchor="middle" textLength="12.56" lengthAdjust="spacingAndGlyphs">350</text>
<line x1="189.8" y1="320.6" x2="192.6" y2="320.6" stroke="#333" stroke-width="0.8"/>
<text x="188" y="323.4" font-size="7.7" font-family="Liberation Sans" fill="#262626" stroke="#262626" stroke-width="0.22" text-anchor="end" textLength="3.72" lengthAdjust="spacingAndGlyphs">0</text>
<line x1="189.8" y1="303.93" x2="192.6" y2="303.93" stroke="#333" stroke-width="0.8"/>
<text x="188" y="306.73" font-size="7.7" font-family="Liberation Sans" fill="#262626" stroke="#262626" stroke-width="0.22" text-anchor="end" textLength="8.14" lengthAdjust="spacingAndGlyphs">25</text>
<text x="234.8" y="340.8" font-size="8.6" font-family="Liberation Serif" fill="#111" stroke="#111" stroke-width="0.22" text-anchor="middle" textLength="38.3" lengthAdjust="spacingAndGlyphs"><tspan font-weight="bold">R</tspan><tspan font-style="italic">e</tspan>(Z) [Ω]</text>
<text x="174.4" y="306.6" font-size="8.6" font-family="Liberation Serif" fill="#111" stroke="#111" stroke-width="0.22" text-anchor="middle" transform="rotate(-90 174.4 306.6)" textLength="44" lengthAdjust="spacingAndGlyphs">-<tspan font-weight="bold">I</tspan><tspan font-style="italic">m</tspan>(Z) [Ω]</text>
<path d="M272.66 320.1 L272.65 320 L272.61 319.89 L272.55 319.76 L272.47 319.62 L272.38 319.47 L272.26 319.31 L272.03 319.15 L271.72 318.97 L271.35 318.75 L270.97 318.5 L270.56 318.17 L270.08 317.7 L269.54 317.16 L268.95 316.59 L268.33 316 L267.68 315.24 L266.96 314.04 L266.11 312.43 L265.09 310.53 L263.84 308.33 L262.23 305.67 L260.05 302.59 L256.74 299.29 L252.47 295.92 L246.02 293.12 L237.26 291.68 L229.59 291.69 L222.26 293.21 L216.35 295.78 L211.36 299.03 L207.61 302.16 L205.19 304.81 L203.48 307.16 L202.12 308.64 L201.05 309.6 L200.04 309.71 L199.09 309.13 L198.04 307.86 L196.85 305.82" fill="none" stroke="#0000ff" stroke-width="1.0" stroke-linejoin="round"/>
<g fill="#0000ff"><circle cx="272.66" cy="320.1" r="1.5"/><circle cx="272.65" cy="320" r="1.5"/><circle cx="272.61" cy="319.89" r="1.5"/><circle cx="272.55" cy="319.76" r="1.5"/><circle cx="272.47" cy="319.62" r="1.5"/><circle cx="272.38" cy="319.47" r="1.5"/><circle cx="272.26" cy="319.31" r="1.5"/><circle cx="272.03" cy="319.15" r="1.5"/><circle cx="271.72" cy="318.97" r="1.5"/><circle cx="271.35" cy="318.75" r="1.5"/><circle cx="270.97" cy="318.5" r="1.5"/><circle cx="270.56" cy="318.17" r="1.5"/><circle cx="270.08" cy="317.7" r="1.5"/><circle cx="269.54" cy="317.16" r="1.5"/><circle cx="268.95" cy="316.59" r="1.5"/><circle cx="268.33" cy="316" r="1.5"/><circle cx="267.68" cy="315.24" r="1.5"/><circle cx="266.96" cy="314.04" r="1.5"/><circle cx="266.11" cy="312.43" r="1.5"/><circle cx="265.09" cy="310.53" r="1.5"/><circle cx="263.84" cy="308.33" r="1.5"/><circle cx="262.23" cy="305.67" r="1.5"/><circle cx="260.05" cy="302.59" r="1.5"/><circle cx="256.74" cy="299.29" r="1.5"/><circle cx="252.47" cy="295.92" r="1.5"/><circle cx="246.02" cy="293.12" r="1.5"/><circle cx="237.26" cy="291.68" r="1.5"/><circle cx="229.59" cy="291.69" r="1.5"/><circle cx="222.26" cy="293.21" r="1.5"/><circle cx="216.35" cy="295.78" r="1.5"/><circle cx="211.36" cy="299.03" r="1.5"/><circle cx="207.61" cy="302.16" r="1.5"/><circle cx="205.19" cy="304.81" r="1.5"/><circle cx="203.48" cy="307.16" r="1.5"/><circle cx="202.12" cy="308.64" r="1.5"/><circle cx="201.05" cy="309.6" r="1.5"/><circle cx="200.04" cy="309.71" r="1.5"/><circle cx="199.09" cy="309.13" r="1.5"/><circle cx="198.04" cy="307.86" r="1.5"/><circle cx="196.85" cy="305.82" r="1.5"/></g>
<rect x="192.6" y="290.3" width="84.4" height="31" fill="none" stroke="#333" stroke-width="0.95"/>
<text x="431.3" y="216.2" font-size="10.4" font-family="Liberation Sans" fill="#111" stroke="#111" stroke-width="0.22" textLength="113.8" lengthAdjust="spacingAndGlyphs">L-R-RCPE-RCPE-RCPE</text>
<text x="347.6" y="217.3" font-size="12" font-family="Liberation Sans" fill="#111" font-weight="bold" textLength="13" lengthAdjust="spacingAndGlyphs">d)</text>
<text x="423.4" y="237.2" font-size="8.9" font-family="Liberation Sans" fill="#111" stroke="#111" stroke-width="0.22" text-anchor="middle" textLength="20.2" lengthAdjust="spacingAndGlyphs">Bode</text>
<text x="423.4" y="392.1" font-size="8.4" font-family="Liberation Sans" fill="#111" stroke="#111" stroke-width="0.22" text-anchor="middle" textLength="39.5" lengthAdjust="spacingAndGlyphs">Freq. [Hz]</text>
<text x="354.8" y="305.8" font-size="8.4" font-family="Liberation Sans" fill="#111" stroke="#111" stroke-width="0.22" text-anchor="middle" textLength="24.8" lengthAdjust="spacingAndGlyphs" transform="rotate(-90 354.8 305.8)">|Z| [Ω]</text>
<g transform="translate(494 305.8) rotate(90)"><path d="M-7.6 -6.1 L-12.1 -0.4 L-6.4 -0.4" fill="none" stroke="#008000" stroke-width="1.1"/><text x="-4.9" y="0" font-size="8.4" font-family="Liberation Sans" fill="#008000" stroke="#008000" stroke-width="0.22" textLength="17.6" lengthAdjust="spacingAndGlyphs">Z [<tspan font-size="10" dy="2">°</tspan><tspan dy="-2">]</tspan></text></g>
<line x1="395.3" y1="370.3" x2="395.3" y2="373.1" stroke="#333" stroke-width="0.8"/>
<text x="395.6" y="381.2" font-size="7.9" font-family="Liberation Sans" fill="#262626" stroke="#262626" stroke-width="0.22" text-anchor="middle" textLength="11.2" lengthAdjust="spacingAndGlyphs">10<tspan font-size="5.53" dy="-3.16">0</tspan></text>
<line x1="423.4" y1="370.3" x2="423.4" y2="373.1" stroke="#333" stroke-width="0.8"/>
<text x="423.7" y="381.2" font-size="7.9" font-family="Liberation Sans" fill="#262626" stroke="#262626" stroke-width="0.22" text-anchor="middle" textLength="11.2" lengthAdjust="spacingAndGlyphs">10<tspan font-size="5.53" dy="-3.16">2</tspan></text>
<line x1="451.5" y1="370.3" x2="451.5" y2="373.1" stroke="#333" stroke-width="0.8"/>
<text x="451.8" y="381.2" font-size="7.9" font-family="Liberation Sans" fill="#262626" stroke="#262626" stroke-width="0.22" text-anchor="middle" textLength="11.2" lengthAdjust="spacingAndGlyphs">10<tspan font-size="5.53" dy="-3.16">4</tspan></text>
<line x1="374.2" y1="281.1" x2="377" y2="281.1" stroke="#333" stroke-width="0.8"/>
<text x="372" y="284.7" font-size="8.2" font-family="Liberation Sans" fill="#262626" stroke="#262626" stroke-width="0.22" text-anchor="end" textLength="11.5" lengthAdjust="spacingAndGlyphs">10<tspan font-size="5.5" dy="-3.2">2</tspan></text>
<line x1="374.2" y1="344.4" x2="377" y2="344.4" stroke="#333" stroke-width="0.8"/>
<text x="372" y="348" font-size="8.2" font-family="Liberation Sans" fill="#262626" stroke="#262626" stroke-width="0.22" text-anchor="end" textLength="11.5" lengthAdjust="spacingAndGlyphs">10<tspan font-size="5.5" dy="-3.2">1</tspan></text>
<line x1="375.3" y1="369.59" x2="377" y2="369.59" stroke="#333" stroke-width="0.6"/>
<line x1="375.3" y1="363.46" x2="377" y2="363.46" stroke="#333" stroke-width="0.6"/>
<line x1="375.3" y1="358.44" x2="377" y2="358.44" stroke="#333" stroke-width="0.6"/>
<line x1="375.3" y1="354.21" x2="377" y2="354.21" stroke="#333" stroke-width="0.6"/>
<line x1="375.3" y1="350.53" x2="377" y2="350.53" stroke="#333" stroke-width="0.6"/>
<line x1="375.3" y1="347.3" x2="377" y2="347.3" stroke="#333" stroke-width="0.6"/>
<line x1="375.3" y1="325.34" x2="377" y2="325.34" stroke="#333" stroke-width="0.6"/>
<line x1="375.3" y1="314.2" x2="377" y2="314.2" stroke="#333" stroke-width="0.6"/>
<line x1="375.3" y1="306.29" x2="377" y2="306.29" stroke="#333" stroke-width="0.6"/>
<line x1="375.3" y1="300.16" x2="377" y2="300.16" stroke="#333" stroke-width="0.6"/>
<line x1="375.3" y1="295.14" x2="377" y2="295.14" stroke="#333" stroke-width="0.6"/>
<line x1="375.3" y1="290.91" x2="377" y2="290.91" stroke="#333" stroke-width="0.6"/>
<line x1="375.3" y1="287.23" x2="377" y2="287.23" stroke="#333" stroke-width="0.6"/>
<line x1="375.3" y1="284" x2="377" y2="284" stroke="#333" stroke-width="0.6"/>
<line x1="375.3" y1="262.04" x2="377" y2="262.04" stroke="#333" stroke-width="0.6"/>
<line x1="375.3" y1="250.9" x2="377" y2="250.9" stroke="#333" stroke-width="0.6"/>
<line x1="375.3" y1="242.99" x2="377" y2="242.99" stroke="#333" stroke-width="0.6"/>
<line x1="469.8" y1="249.3" x2="472.6" y2="249.3" stroke="#333" stroke-width="0.8"/>
<text x="474.7" y="252.1" font-size="7.7" font-family="Liberation Sans" fill="#008000" stroke="#008000" stroke-width="0.22" textLength="9.54" lengthAdjust="spacingAndGlyphs">−5</text>
<line x1="469.8" y1="266.29" x2="472.6" y2="266.29" stroke="#333" stroke-width="0.8"/>
<text x="474.7" y="269.09" font-size="7.7" font-family="Liberation Sans" fill="#008000" stroke="#008000" stroke-width="0.22" textLength="13.96" lengthAdjust="spacingAndGlyphs">−10</text>
<line x1="469.8" y1="283.27" x2="472.6" y2="283.27" stroke="#333" stroke-width="0.8"/>
<text x="474.7" y="286.07" font-size="7.7" font-family="Liberation Sans" fill="#008000" stroke="#008000" stroke-width="0.22" textLength="13.96" lengthAdjust="spacingAndGlyphs">−15</text>
<line x1="469.8" y1="300.25" x2="472.6" y2="300.25" stroke="#333" stroke-width="0.8"/>
<text x="474.7" y="303.06" font-size="7.7" font-family="Liberation Sans" fill="#008000" stroke="#008000" stroke-width="0.22" textLength="13.96" lengthAdjust="spacingAndGlyphs">−20</text>
<line x1="469.8" y1="317.24" x2="472.6" y2="317.24" stroke="#333" stroke-width="0.8"/>
<text x="474.7" y="320.04" font-size="7.7" font-family="Liberation Sans" fill="#008000" stroke="#008000" stroke-width="0.22" textLength="13.96" lengthAdjust="spacingAndGlyphs">−25</text>
<line x1="469.8" y1="334.23" x2="472.6" y2="334.23" stroke="#333" stroke-width="0.8"/>
<text x="474.7" y="337.03" font-size="7.7" font-family="Liberation Sans" fill="#008000" stroke="#008000" stroke-width="0.22" textLength="13.96" lengthAdjust="spacingAndGlyphs">−30</text>
<line x1="469.8" y1="351.21" x2="472.6" y2="351.21" stroke="#333" stroke-width="0.8"/>
<text x="474.7" y="354.01" font-size="7.7" font-family="Liberation Sans" fill="#008000" stroke="#008000" stroke-width="0.22" textLength="13.96" lengthAdjust="spacingAndGlyphs">−35</text>
<line x1="469.8" y1="368.19" x2="472.6" y2="368.19" stroke="#333" stroke-width="0.8"/>
<text x="474.7" y="371" font-size="7.7" font-family="Liberation Sans" fill="#008000" stroke="#008000" stroke-width="0.22" textLength="13.96" lengthAdjust="spacingAndGlyphs">−40</text>
<path d="M381.2 246.9 L383.62 250.47 L386.04 254.26 L388.46 258.31 L390.88 262.52 L393.3 266.72 L395.72 270.81 L398.14 274.6 L400.56 278.21 L402.98 281.6 L405.4 284.97 L407.82 288.54 L410.24 292.19 L412.66 295.78 L415.08 299.19 L417.5 302.39 L419.92 305.68 L422.34 309.35 L424.76 313.66 L427.18 318.35 L429.6 323.39 L432.02 328.54 L434.44 333.4 L436.86 338.3 L439.28 343.56 L441.7 347.45 L444.12 350.78 L446.54 354.18 L448.96 357.18 L451.38 359.23 L453.8 360.86 L456.22 362.05 L458.64 362.98 L461.06 363.8 L463.48 364.4 L465.9 364.7" fill="none" stroke="#000" stroke-width="1.0" stroke-linejoin="round"/>
<g fill="#000"><circle cx="381.2" cy="246.9" r="1.55"/><circle cx="383.62" cy="250.47" r="1.55"/><circle cx="386.04" cy="254.26" r="1.55"/><circle cx="388.46" cy="258.31" r="1.55"/><circle cx="390.88" cy="262.52" r="1.55"/><circle cx="393.3" cy="266.72" r="1.55"/><circle cx="395.72" cy="270.81" r="1.55"/><circle cx="398.14" cy="274.6" r="1.55"/><circle cx="400.56" cy="278.21" r="1.55"/><circle cx="402.98" cy="281.6" r="1.55"/><circle cx="405.4" cy="284.97" r="1.55"/><circle cx="407.82" cy="288.54" r="1.55"/><circle cx="410.24" cy="292.19" r="1.55"/><circle cx="412.66" cy="295.78" r="1.55"/><circle cx="415.08" cy="299.19" r="1.55"/><circle cx="417.5" cy="302.39" r="1.55"/><circle cx="419.92" cy="305.68" r="1.55"/><circle cx="422.34" cy="309.35" r="1.55"/><circle cx="424.76" cy="313.66" r="1.55"/><circle cx="427.18" cy="318.35" r="1.55"/><circle cx="429.6" cy="323.39" r="1.55"/><circle cx="432.02" cy="328.54" r="1.55"/><circle cx="434.44" cy="333.4" r="1.55"/><circle cx="436.86" cy="338.3" r="1.55"/><circle cx="439.28" cy="343.56" r="1.55"/><circle cx="441.7" cy="347.45" r="1.55"/><circle cx="444.12" cy="350.78" r="1.55"/><circle cx="446.54" cy="354.18" r="1.55"/><circle cx="448.96" cy="357.18" r="1.55"/><circle cx="451.38" cy="359.23" r="1.55"/><circle cx="453.8" cy="360.86" r="1.55"/><circle cx="456.22" cy="362.05" r="1.55"/><circle cx="458.64" cy="362.98" r="1.55"/><circle cx="461.06" cy="363.8" r="1.55"/><circle cx="463.48" cy="364.4" r="1.55"/><circle cx="465.9" cy="364.7" r="1.55"/></g>
<path d="M381.2 322.3 L383.62 329.2 L386.04 334.2 L388.46 338.2 L390.88 340 L393.3 340.4 L395.72 339.3 L398.14 336.8 L400.56 334 L402.98 330.6 L405.4 327.6 L407.82 325.5 L410.24 324.9 L412.66 326.8 L415.08 330.6 L417.5 336.3 L419.92 343.8 L422.34 351 L424.76 358 L427.18 362.5 L429.6 365 L432.02 364.2 L434.44 361.2 L436.86 355 L439.28 346.3 L441.7 337.2 L444.12 325.2 L446.54 312.5 L448.96 300.3 L451.38 288.3 L453.8 278.9 L456.22 270 L458.64 262.4 L461.06 256.5 L463.48 251.5 L465.9 246.4" fill="none" stroke="#008000" stroke-width="1.0" stroke-linejoin="round"/>
<g fill="#008000"><circle cx="381.2" cy="322.3" r="1.55"/><circle cx="383.62" cy="329.2" r="1.55"/><circle cx="386.04" cy="334.2" r="1.55"/><circle cx="388.46" cy="338.2" r="1.55"/><circle cx="390.88" cy="340" r="1.55"/><circle cx="393.3" cy="340.4" r="1.55"/><circle cx="395.72" cy="339.3" r="1.55"/><circle cx="398.14" cy="336.8" r="1.55"/><circle cx="400.56" cy="334" r="1.55"/><circle cx="402.98" cy="330.6" r="1.55"/><circle cx="405.4" cy="327.6" r="1.55"/><circle cx="407.82" cy="325.5" r="1.55"/><circle cx="410.24" cy="324.9" r="1.55"/><circle cx="412.66" cy="326.8" r="1.55"/><circle cx="415.08" cy="330.6" r="1.55"/><circle cx="417.5" cy="336.3" r="1.55"/><circle cx="419.92" cy="343.8" r="1.55"/><circle cx="422.34" cy="351" r="1.55"/><circle cx="424.76" cy="358" r="1.55"/><circle cx="427.18" cy="362.5" r="1.55"/><circle cx="429.6" cy="365" r="1.55"/><circle cx="432.02" cy="364.2" r="1.55"/><circle cx="434.44" cy="361.2" r="1.55"/><circle cx="436.86" cy="355" r="1.55"/><circle cx="439.28" cy="346.3" r="1.55"/><circle cx="441.7" cy="337.2" r="1.55"/><circle cx="444.12" cy="325.2" r="1.55"/><circle cx="446.54" cy="312.5" r="1.55"/><circle cx="448.96" cy="300.3" r="1.55"/><circle cx="451.38" cy="288.3" r="1.55"/><circle cx="453.8" cy="278.9" r="1.55"/><circle cx="456.22" cy="270" r="1.55"/><circle cx="458.64" cy="262.4" r="1.55"/><circle cx="461.06" cy="256.5" r="1.55"/><circle cx="463.48" cy="251.5" r="1.55"/><circle cx="465.9" cy="246.4" r="1.55"/></g>
<rect x="377" y="241.3" width="92.8" height="129" fill="none" stroke="#333" stroke-width="0.95"/>
<text x="584.55" y="277.7" font-size="8.9" font-family="Liberation Sans" fill="#111" stroke="#111" stroke-width="0.22" text-anchor="middle" textLength="30.5" lengthAdjust="spacingAndGlyphs">Nyquist</text>
<line x1="541.5" y1="329.8" x2="541.5" y2="332.6" stroke="#333" stroke-width="0.8"/>
<text x="541.5" y="340.2" font-size="7.7" font-family="Liberation Sans" fill="#262626" stroke="#262626" stroke-width="0.22" text-anchor="middle" textLength="3.72" lengthAdjust="spacingAndGlyphs">0</text>
<line x1="568.8" y1="329.8" x2="568.8" y2="332.6" stroke="#333" stroke-width="0.8"/>
<text x="568.8" y="340.2" font-size="7.7" font-family="Liberation Sans" fill="#262626" stroke="#262626" stroke-width="0.22" text-anchor="middle" textLength="12.56" lengthAdjust="spacingAndGlyphs">100</text>
<line x1="596.1" y1="329.8" x2="596.1" y2="332.6" stroke="#333" stroke-width="0.8"/>
<text x="596.1" y="340.2" font-size="7.7" font-family="Liberation Sans" fill="#262626" stroke="#262626" stroke-width="0.22" text-anchor="middle" textLength="12.56" lengthAdjust="spacingAndGlyphs">200</text>
<line x1="623.4" y1="329.8" x2="623.4" y2="332.6" stroke="#333" stroke-width="0.8"/>
<text x="623.4" y="340.2" font-size="7.7" font-family="Liberation Sans" fill="#262626" stroke="#262626" stroke-width="0.22" text-anchor="middle" textLength="12.56" lengthAdjust="spacingAndGlyphs">300</text>
<line x1="535.5" y1="327.5" x2="538.3" y2="327.5" stroke="#333" stroke-width="0.8"/>
<text x="533.7" y="330.3" font-size="7.7" font-family="Liberation Sans" fill="#262626" stroke="#262626" stroke-width="0.22" text-anchor="end" textLength="3.72" lengthAdjust="spacingAndGlyphs">0</text>
<line x1="535.5" y1="300.2" x2="538.3" y2="300.2" stroke="#333" stroke-width="0.8"/>
<text x="533.7" y="303" font-size="7.7" font-family="Liberation Sans" fill="#262626" stroke="#262626" stroke-width="0.22" text-anchor="end" textLength="12.56" lengthAdjust="spacingAndGlyphs">100</text>
<text x="584.55" y="349.3" font-size="8.6" font-family="Liberation Serif" fill="#111" stroke="#111" stroke-width="0.22" text-anchor="middle" textLength="38.3" lengthAdjust="spacingAndGlyphs"><tspan font-weight="bold">R</tspan><tspan font-style="italic">e</tspan>(Z) [Ω]</text>
<text x="515.2" y="305.5" font-size="8.6" font-family="Liberation Serif" fill="#111" stroke="#111" stroke-width="0.22" text-anchor="middle" transform="rotate(-90 515.2 305.5)" textLength="44" lengthAdjust="spacingAndGlyphs">-<tspan font-weight="bold">I</tspan><tspan font-style="italic">m</tspan>(Z) [Ω]</text>
<path d="M626.28 285.25 L614.59 287.78 L604.27 291.27 L595.03 295.12 L587.15 299.3 L580.65 303.21 L575.35 306.76 L571.21 309.82 L567.78 312.36 L564.96 314.53 L562.43 316.35 L559.98 317.91 L557.71 319.15 L555.65 320.03 L553.87 320.66 L552.33 321.09 L550.88 321.45 L549.51 321.91 L548.17 322.47 L547.02 323.13 L546.05 323.81 L545.29 324.45 L544.71 325 L544.25 325.49 L543.85 325.94 L543.6 326.25 L543.42 326.51 L543.25 326.73 L543.11 326.91 L543.03 327.05 L542.96 327.14 L542.91 327.22 L542.87 327.29 L542.84 327.33 L542.81 327.37 L542.8 327.41" fill="none" stroke="#0000ff" stroke-width="1.0" stroke-linejoin="round"/>
<g fill="#0000ff"><circle cx="626.28" cy="285.25" r="1.5"/><circle cx="614.59" cy="287.78" r="1.5"/><circle cx="604.27" cy="291.27" r="1.5"/><circle cx="595.03" cy="295.12" r="1.5"/><circle cx="587.15" cy="299.3" r="1.5"/><circle cx="580.65" cy="303.21" r="1.5"/><circle cx="575.35" cy="306.76" r="1.5"/><circle cx="571.21" cy="309.82" r="1.5"/><circle cx="567.78" cy="312.36" r="1.5"/><circle cx="564.96" cy="314.53" r="1.5"/><circle cx="562.43" cy="316.35" r="1.5"/><circle cx="559.98" cy="317.91" r="1.5"/><circle cx="557.71" cy="319.15" r="1.5"/><circle cx="555.65" cy="320.03" r="1.5"/><circle cx="553.87" cy="320.66" r="1.5"/><circle cx="552.33" cy="321.09" r="1.5"/><circle cx="550.88" cy="321.45" r="1.5"/><circle cx="549.51" cy="321.91" r="1.5"/><circle cx="548.17" cy="322.47" r="1.5"/><circle cx="547.02" cy="323.13" r="1.5"/><circle cx="546.05" cy="323.81" r="1.5"/><circle cx="545.29" cy="324.45" r="1.5"/><circle cx="544.71" cy="325" r="1.5"/><circle cx="544.25" cy="325.49" r="1.5"/><circle cx="543.85" cy="325.94" r="1.5"/><circle cx="543.6" cy="326.25" r="1.5"/><circle cx="543.42" cy="326.51" r="1.5"/><circle cx="543.25" cy="326.73" r="1.5"/><circle cx="543.11" cy="326.91" r="1.5"/><circle cx="543.03" cy="327.05" r="1.5"/><circle cx="542.96" cy="327.14" r="1.5"/><circle cx="542.91" cy="327.22" r="1.5"/><circle cx="542.87" cy="327.29" r="1.5"/><circle cx="542.84" cy="327.33" r="1.5"/><circle cx="542.81" cy="327.37" r="1.5"/><circle cx="542.8" cy="327.41" r="1.5"/></g>
<rect x="538.3" y="282.2" width="92.5" height="47.6" fill="none" stroke="#333" stroke-width="0.95"/>
<g font-family="Liberation Serif" font-size="14.5" fill="#111"><text x="11.6" y="421.2">l</text><text x="24.55" y="421.2">(</text><text x="37.8" y="421.2">)</text><text x="48.9" y="421.2">(</text><text x="54.6" y="421.2">d</text><text x="62.5" y="421.2">)</text><text x="70.9" y="421.2">f</text><text x="110.4" y="421.2">l</text><text x="128.2" y="421.2">i</text><text x="142.25" y="421.2">l</text><text x="156.5" y="421.2">l</text><text x="173.8" y="421.2">t</text><text x="181.95" y="421.2">i</text><text x="199.75" y="421.2">l</text><text x="207.6" y="421.2">i</text><text x="240.4" y="421.2">l</text><text x="300.7" y="421.2">t</text><text x="318.4" y="421.2">f</text><text x="351.95" y="421.2">t</text><text x="356.1" y="421.2">h</text><text x="373.65" y="421.2">d</text><text x="388.2" y="421.2">t</text><text x="414.2" y="421.2">t</text><text x="425.8" y="421.2">T</text><text x="436.1" y="421.2">h</text><text x="453.8" y="421.2">B</text><text x="470.2" y="421.2">d</text><text x="495.4" y="421.2">l</text><text x="506.95" y="421.2">t</text><text x="533.2" y="421.2">t</text><text x="537.35" y="421.2">h</text><text x="554.75" y="421.2">l</text><text x="565.25" y="421.2">f</text><text x="585.25" y="421.2">f</text><text x="613.6" y="421.2">h</text><text x="637.25" y="421.2">l</text></g>
</svg></body></html>
